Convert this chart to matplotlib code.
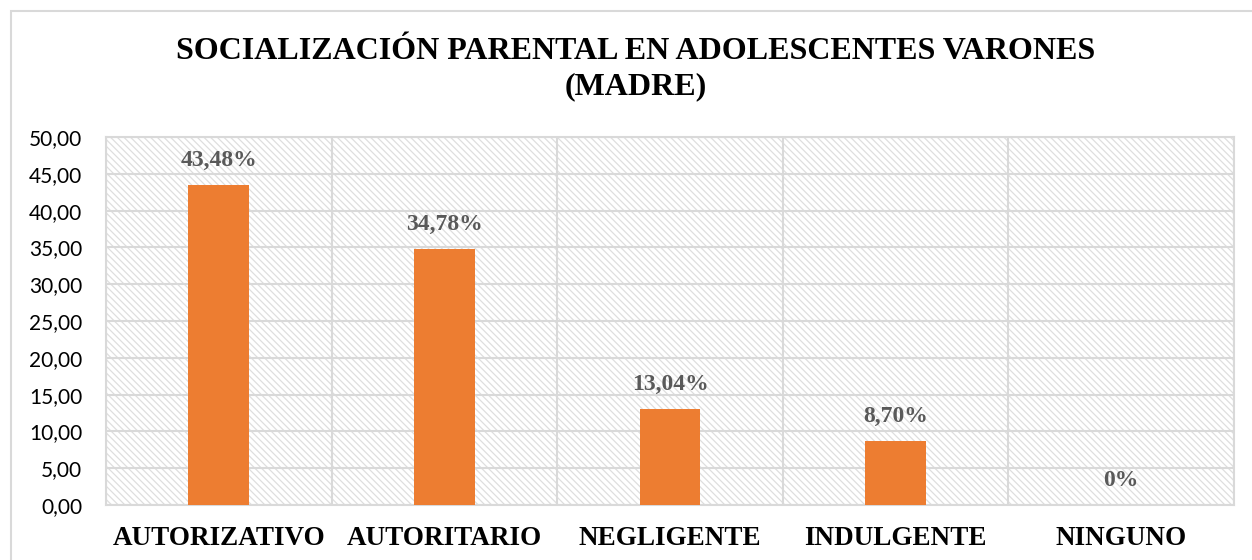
import matplotlib
matplotlib.use("Agg")
import matplotlib.pyplot as plt
from matplotlib.patches import Rectangle
import numpy as np

categories = ["AUTORIZATIVO", "AUTORITARIO", "NEGLIGENTE", "INDULGENTE", "NINGUNO"]
values = [43.48, 34.78, 13.04, 8.70, 0.0]
labels = ["43,48%", "34,78%", "13,04%", "8,70%", "0%"]
yticks = [0, 5, 10, 15, 20, 25, 30, 35, 40, 45, 50]
title = "SOCIALIZACIÓN PARENTAL EN ADOLESCENTES VARONES\n(MADRE)"

plt.rcParams['hatch.linewidth'] = 0.9
serif = ["Liberation Serif", "DejaVu Serif"]

fig = plt.figure(figsize=(12.52, 5.6), dpi=100)
W, H = 1252, 560
# outer chart border
fig.patches.append(Rectangle((11 / W, -0.05), 1.2, 1 - 11 / H + 0.05, transform=fig.transFigure,
                             fill=False, edgecolor="#d9d9d9", linewidth=1.5))

ax = fig.add_axes([106 / W, 1 - 505 / H, (1234 - 106) / W, (505 - 137) / H])
x = np.arange(len(categories))
ax.set_xlim(-0.5, len(categories) - 0.5)
ax.set_ylim(0, 50)

ax.patch.set_facecolor("white")
ax.add_patch(Rectangle((0, 0), 1, 1, transform=ax.transAxes, facecolor="white",
                       edgecolor="#dedede", hatch="\\\\\\\\\\", linewidth=0, zorder=0))

ax.bar(x, values, width=0.27, color="#ed7d31", zorder=3)

ax.set_yticks(yticks)
ax.set_yticklabels([f"{v:.2f}".replace(".", ",") for v in yticks],
                   fontsize=15, family=["Lato", "DejaVu Sans"], color="black")
ax.set_xticks(x)
ax.set_xticklabels(categories, fontsize=19.5, fontweight="bold", family=serif)
ax.set_xticks(np.arange(-0.5, len(categories)), minor=True)
ax.tick_params(axis="both", which="both", length=0)
ax.tick_params(axis="x", pad=15)
ax.tick_params(axis="y", pad=17)
ax.grid(axis="y", which="major", color="#d9d9d9", linewidth=1.5, zorder=1)
ax.grid(axis="x", which="minor", color="#d9d9d9", linewidth=1.5, zorder=1)
ax.set_axisbelow(True)
for s in ax.spines.values():
    s.set_color("#d9d9d9")
    s.set_linewidth(1.5)

for xi, v, lab in zip(x, values, labels):
    ax.annotate(lab, (xi, v), xytext=(0, 18), textcoords="offset points",
                ha="center", va="center", fontsize=17, fontweight="bold",
                family=serif, color="#595959", zorder=4)

fig.text(636 / W, 1 - 69 / H, title, ha="center", va="center", fontsize=23,
         fontweight="bold", family=serif, linespacing=1.3)

fig.savefig("out.png", dpi=100)
